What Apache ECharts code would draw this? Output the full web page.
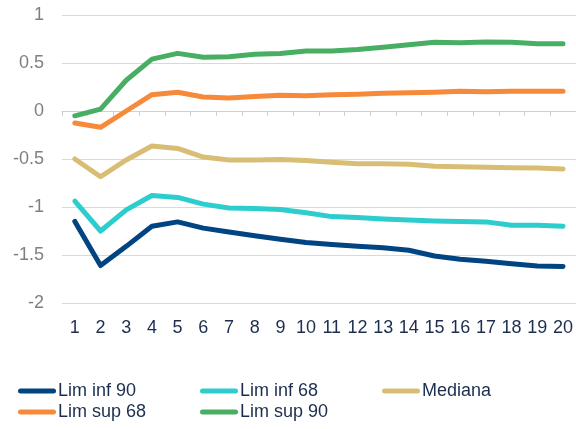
<!DOCTYPE html>
<html><head><meta charset="utf-8">
<script src="https://cdn.jsdelivr.net/npm/echarts@6/dist/echarts.min.js"></script>
<style>html,body{margin:0;padding:0;background:#fff}#c{width:576px;height:429px}</style>
</head><body><div id="c"></div>
<script>
const categories = ['1','2','3','4','5','6','7','8','9','10','11','12','13','14','15','16','17','18','19','20'];
const limInf90 = [-1.15,-1.61,-1.41,-1.20,-1.155,-1.22,-1.26,-1.30,-1.335,-1.37,-1.39,-1.41,-1.425,-1.45,-1.51,-1.545,-1.565,-1.59,-1.615,-1.62];
const limInf68 = [-0.94,-1.25,-1.03,-0.88,-0.90,-0.97,-1.01,-1.015,-1.025,-1.06,-1.10,-1.11,-1.125,-1.135,-1.145,-1.15,-1.155,-1.19,-1.19,-1.20];
const mediana = [-0.50,-0.685,-0.51,-0.365,-0.39,-0.48,-0.51,-0.51,-0.505,-0.515,-0.535,-0.55,-0.55,-0.555,-0.575,-0.58,-0.585,-0.59,-0.595,-0.605];
const limSup68 = [-0.125,-0.17,0.0,0.17,0.195,0.145,0.135,0.15,0.165,0.16,0.17,0.175,0.185,0.19,0.195,0.205,0.20,0.205,0.205,0.205];
const limSup90 = [-0.05,0.02,0.32,0.54,0.60,0.56,0.565,0.59,0.60,0.625,0.625,0.64,0.665,0.69,0.715,0.71,0.72,0.715,0.70,0.70];
const names = ['Lim inf 90','Lim inf 68','Mediana','Lim sup 68','Lim sup 90'];
const colors = ['#004481','#2DCCCD','#D8BE75','#F7893B','#48AE64'];
const values = [limInf90, limInf68, mediana, limSup68, limSup90];

const font = 'Liberation Sans, Arial, sans-serif';
const icon = 'path://M2.5,0 H35.5 A2.5,2.5 0 0 1 35.5,5 H2.5 A2.5,2.5 0 0 1 2.5,0 Z';
const legendBase = {orient:'vertical', itemWidth:38, itemHeight:5, itemGap:3, padding:0, icon:icon,
  textStyle:{fontSize:18, lineHeight:18, color:'#1c2d50', fontFamily:font, padding:[0,0,0,-3]}};

const chart = echarts.init(document.getElementById('c'));
chart.setOption({
  animation:false,
  color:colors,
  grid:{left:62, right:0, top:15, bottom:126},
  legend:[
    Object.assign({}, legendBase, {left:18, top:382, data:[names[0], names[3]]}),
    Object.assign({}, legendBase, {left:200, top:382, data:[names[1], names[4]]}),
    Object.assign({}, legendBase, {left:382, top:382, data:[names[2]]})
  ],
  xAxis:[
    {type:'category', data:categories, position:'bottom', boundaryGap:true,
     axisLine:{show:false, onZero:false}, axisTick:{show:false},
     axisLabel:{color:'#1c2d50', fontSize:18, margin:16, interval:0, fontFamily:font}},
    {type:'category', data:categories, position:'top', boundaryGap:true,
     axisLine:{show:true, onZero:true, lineStyle:{color:'#d0d0d0', width:1}},
     axisTick:{show:true, inside:true, length:5, lineStyle:{color:'#d0d0d0'}},
     axisLabel:{show:false}}
  ],
  yAxis:{type:'value', min:-2, max:1, interval:0.5,
    axisLine:{show:false}, axisTick:{show:false},
    splitLine:{lineStyle:{color:'#d9d9d9', width:1}},
    axisLabel:{color:'#7f7f7f', fontSize:18, margin:18, fontFamily:font}},
  series: names.map((n,i)=>({
    name:n, type:'line', data:values[i], xAxisIndex:0, symbol:'none',
    lineStyle:{width:5, color:colors[i], cap:'round', join:'round'},
    itemStyle:{color:colors[i]}
  }))
});
</script></body></html>
